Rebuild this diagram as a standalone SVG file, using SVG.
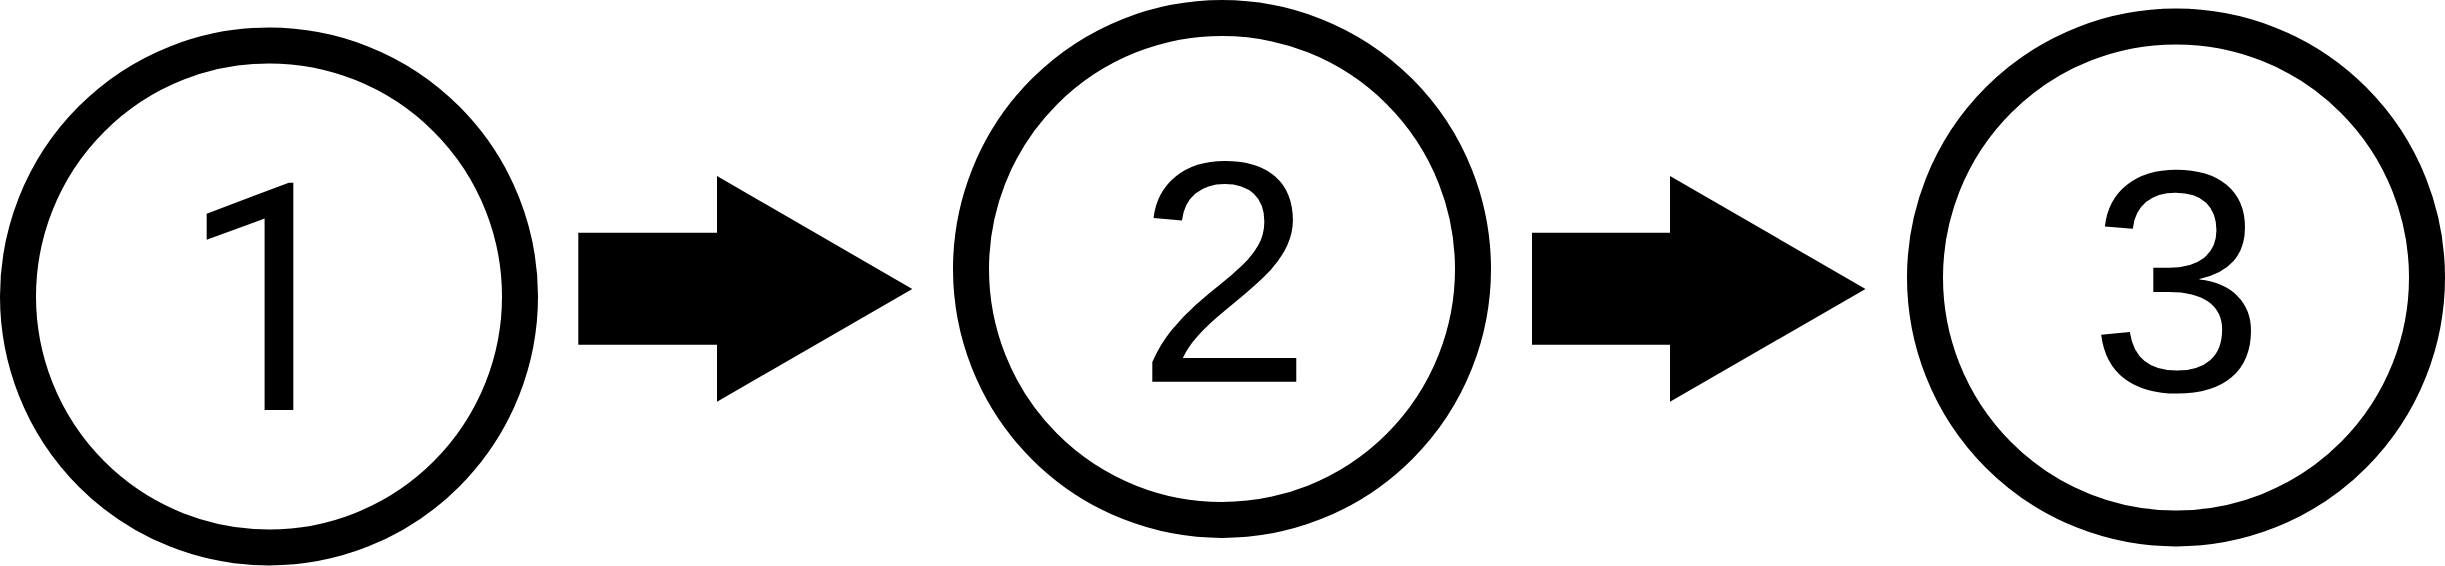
<svg xmlns="http://www.w3.org/2000/svg" width="2445" height="566" viewBox="0 0 2445 566">
  <style>
    .ring { fill: #ffffff; stroke: #000000; stroke-width: 36; }
    .num { font-family: "Liberation Sans", Arial, sans-serif; font-size: 316px; fill: #000000; text-anchor: middle; }
    .num-one { font-family: Roboto, "Noto Sans", sans-serif; font-size: 318px; }
    .arrow { fill: #000000; stroke: none; }
  </style>
  <rect width="2445" height="566" fill="#ffffff"/>
  <g id="connectors">
    <path id="arrow-1-2" class="arrow" d="M578.3,232.7 H717 V176 L912.3,289 L717,401.7 V344.7 H578.3 Z"/>
    <path id="arrow-2-3" class="arrow" d="M1532,232.7 H1670 V176 L1865.5,289 L1670,401.7 V344.7 H1532 Z"/>
  </g>
  <g id="node-1">
    <circle class="ring" cx="269" cy="296.5" r="251"/>
    <text class="num num-one" x="269.5" y="410">1</text>
  </g>
  <g id="node-2">
    <circle class="ring" cx="1222" cy="269" r="251"/>
    <text class="num" x="1224.3" y="381.7">2</text>
  </g>
  <g id="node-3">
    <circle class="ring" cx="2176" cy="277.5" r="251"/>
    <text class="num" x="2177" y="390.5">3</text>
  </g>
</svg>
